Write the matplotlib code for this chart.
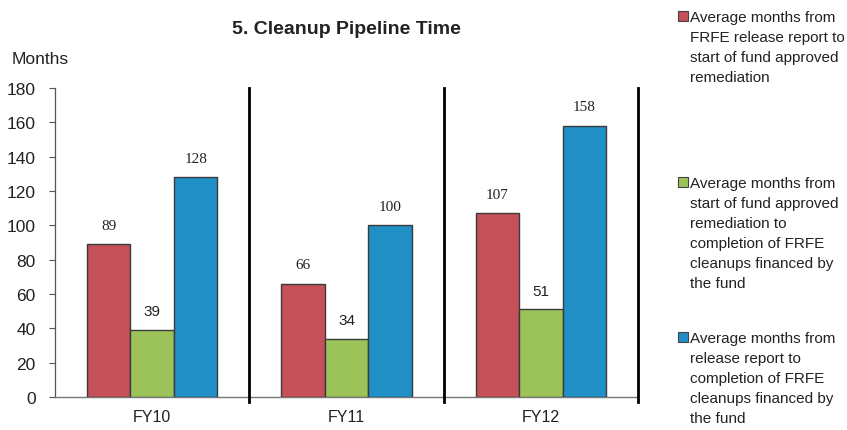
import matplotlib
matplotlib.use("Agg")
import matplotlib.pyplot as plt
from matplotlib.patches import Rectangle
import numpy as np

plt.rcParams['font.family'] = ['Liberation Sans', 'DejaVu Sans']

categories = ["FY10", "FY11", "FY12"]
series_names = [
    "Average months from\nFRFE release report to\nstart of fund approved\nremediation",
    "Average months from\nstart of fund approved\nremediation to\ncompletion of FRFE\ncleanups financed by\nthe fund",
    "Average months from\nrelease report to\ncompletion of FRFE\ncleanups financed by\nthe fund",
]
release_to_start = [89, 66, 107]
start_to_completion = [39, 34, 51]
release_to_completion = [128, 100, 158]
colors = ["#C5505A", "#9CC35A", "#1F8FC6"]
label_fonts = ["Liberation Serif", "Liberation Sans", "Liberation Serif"]
yticks = list(range(0, 181, 20))

W, H = 847, 431
fig = plt.figure(figsize=(W / 100, H / 100), dpi=100)
ax = fig.add_axes([55 / W, 1 - 398 / H, (638 - 55) / W, (398 - 89) / H])

series = [release_to_start, start_to_completion, release_to_completion]
x = np.arange(len(categories))
bw = 0.224
for i, (vals, c, fnt) in enumerate(zip(series, colors, label_fonts)):
    pos = x + (i - 1) * bw
    ax.bar(pos, vals, width=bw, color=c, edgecolor="#3a3a3a", linewidth=1.0, zorder=3)
    for p, v in zip(pos, vals):
        ax.text(p, v + 11, str(v), ha="center", va="center", fontsize=11,
                family=fnt, color="#222222")

ax.set_xlim(-0.5, 2.5)
ax.set_ylim(0, 180)
ax.set_yticks(yticks)
ax.set_xticks(x)
ax.set_xticklabels(categories, fontsize=11.5)
ax.tick_params(axis="x", length=0, pad=9, colors="#222222")
ax.tick_params(axis="y", length=4, width=0.8, color="#555555", labelsize=12.5,
               labelcolor="#222222", pad=10)
for s in ["top", "right"]:
    ax.spines[s].set_visible(False)
ax.spines["left"].set_color("#555555")
ax.spines["left"].set_linewidth(0.9)
ax.spines["bottom"].set_color("#777777")
ax.spines["bottom"].set_linewidth(1.0)
ax.spines["bottom"].set_linestyle((0, (2, 1)))

for xs in [0.5, 1.5, 2.5]:
    ax.plot([xs, xs], [-3, 180], color="black", linewidth=2.0, clip_on=False, zorder=4)

fig.text(346 / W, 1 - 29 / H, "5. Cleanup Pipeline Time", ha="center", va="center",
         fontsize=14, fontweight="bold", color="#222222")
fig.text(12 / W, 1 - 60 / H, "Months", ha="left", va="center", fontsize=12.5,
         color="#222222")

legend_tops = [12, 178, 333]
for name, c, top in zip(series_names, colors, legend_tops):
    fig.add_artist(Rectangle((678 / W, 1 - (top + 10) / H), 10 / W, 10 / H,
                             transform=fig.transFigure, facecolor=c,
                             edgecolor="#444444", linewidth=0.8))
    fig.text(690 / W, 1 - (top - 1) / H, name, ha="left", va="top", fontsize=11,
             linespacing=1.55, color="#222222")

fig.savefig("out.png", dpi=100)
